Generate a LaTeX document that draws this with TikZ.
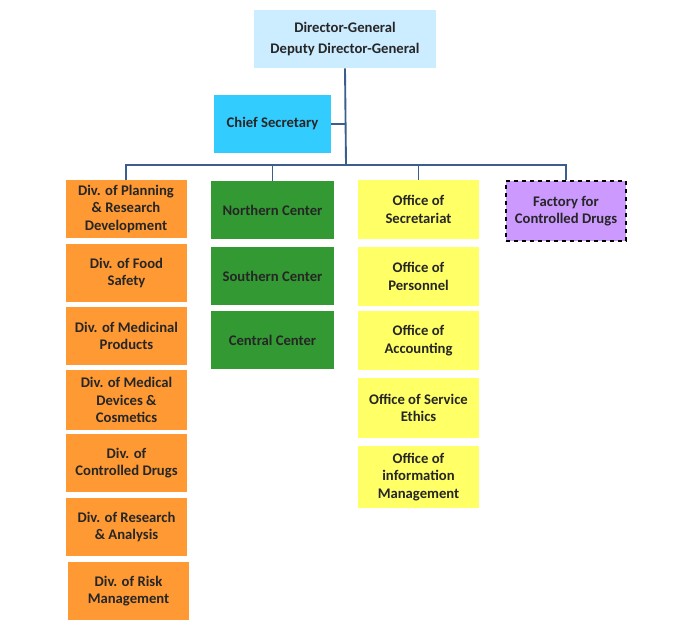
\documentclass[tikz,border=0pt]{standalone}
\usepackage{fontspec}
\setmainfont{Carlito}
\definecolor{topc}{HTML}{CCECFF}
\definecolor{chief}{HTML}{33CCFF}
\definecolor{orng}{HTML}{FF9933}
\definecolor{grn}{HTML}{339933}
\definecolor{yel}{HTML}{FFFF66}
\definecolor{purp}{HTML}{CC99FF}
\definecolor{ln}{HTML}{3A5F8C}
\begin{document}
\begin{tikzpicture}[x=0.75pt,y=-0.75pt,
  bx/.style={inner sep=0pt,align=center,font=\bfseries\fontsize{11}{13.2}\selectfont,text=black!85},
  con/.style={ln,line width=1.4pt}]
\useasboundingbox (0,0) rectangle (684,635);
\newcommand\bx[6]{\node[bx,fill=#6,minimum width={(#3-#2)*0.75pt},minimum height={(#5-#4)*0.75pt}] (#1) at ({(#2+#3)/2},{(#4+#5)/2}) {#6text};}
\node[bx,fill=topc,minimum width=136.5pt,minimum height=43.5pt] (top) at (345,39) {Director-General\\[2pt]Deputy Director-General};
\node[bx,fill=chief,minimum width=87.75pt,minimum height=43.5pt] (cs) at (272.5,124) {Chief Secretary};
% orange
\node[bx,fill=orng,minimum width=90.75pt,minimum height=43.5pt] (o1) at (126,209) {Div. of Planning\\\& Research\\Development};
\node[bx,fill=orng,minimum width=90.75pt,minimum height=43.5pt] (o2) at (126.5,273) {Div. of Food\\Safety};
\node[bx,fill=orng,minimum width=90.75pt,minimum height=43.5pt] (o3) at (126.5,336) {Div. of Medicinal\\Products};
\node[bx,fill=orng,minimum width=90.75pt,minimum height=45pt] (o4) at (126.5,400) {Div. of Medical\\Devices \&\\Cosmetics};
\node[bx,fill=orng,minimum width=90.75pt,minimum height=43.5pt] (o5) at (126.5,463) {Div. of\\Controlled Drugs};
\node[bx,fill=orng,minimum width=90.75pt,minimum height=43.5pt] (o6) at (126.5,527) {Div. of Research\\\& Analysis};
\node[bx,fill=orng,minimum width=90.75pt,minimum height=43.5pt] (o7) at (128.5,591) {Div. of Risk\\Management};
% green
\node[bx,fill=grn,minimum width=92.25pt,minimum height=43.5pt] (g1) at (272.5,210) {Northern Center};
\node[bx,fill=grn,minimum width=92.25pt,minimum height=43.5pt] (g2) at (272.5,276) {Southern Center};
\node[bx,fill=grn,minimum width=92.25pt,minimum height=43.5pt] (g3) at (272.5,340) {Central Center};
% yellow
\node[bx,fill=yel,minimum width=90.75pt,minimum height=44.25pt] (y1) at (418.5,209.5) {Office of\\Secretariat};
\node[bx,fill=yel,minimum width=90.75pt,minimum height=44.25pt] (y2) at (418.5,276.5) {Office of\\Personnel};
\node[bx,fill=yel,minimum width=90.75pt,minimum height=44.25pt] (y3) at (418.5,340.5) {Office of\\Accounting};
\node[bx,fill=yel,minimum width=90.75pt,minimum height=45pt] (y4) at (418.5,408) {Office of Service\\Ethics};
\node[bx,fill=yel,minimum width=90.75pt,minimum height=46.5pt] (y5) at (418.5,477) {Office of\\information\\Management};
% purple
\node[bx,fill=purp,draw=black,dashed,line width=1.5pt,minimum width=90pt,minimum height=45pt] (p1) at (566,211) {Factory for\\Controlled Drugs};
% connectors
\coordinate (j) at (346,165);
\coordinate (jl) at (126,165);
\coordinate (jr) at (566,165);
\draw[con] (top.south) -- (j);
\draw[con] (cs.east) -- (cs.east -| j);
\draw[con] (o1.north) -- (jl) -- (jr) -- (p1.north);
\draw[con] (g1.north) -- (g1.north |- j);
\draw[con] (y1.north) -- (y1.north |- j);
\end{tikzpicture}
\end{document}
